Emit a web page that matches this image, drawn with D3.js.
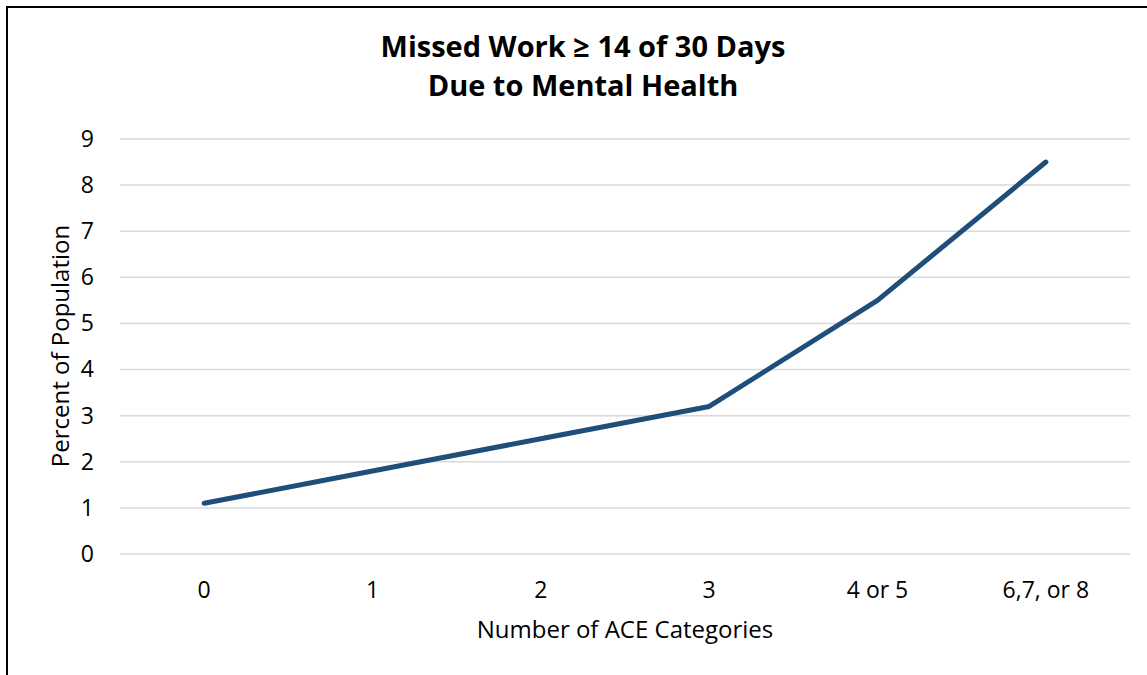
<html>
<head>
<script src="https://d3js.org/d3.v7.min.js"></script>
<style>
    body { margin: 0; background: #fff; }
    text { font-family: 'Open Sans', sans-serif; fill: #000; }
</style>
</head>
<body>
<div id="chart"></div>
<script>
    // chart data
    var categories = ["0", "1", "2", "3", "4 or 5", "6,7, or 8"];
    var values = [1.1, 1.8, 2.5, 3.2, 5.5, 8.5];
    var yTicks = [0, 1, 2, 3, 4, 5, 6, 7, 8, 9];
    var titleLines = ["Missed Work \u2265 14 of 30 Days", "Due to Mental Health"];

    var width = 1147, height = 675;
    var margin = {left: 120, right: 17, top: 139, bottom: 121};

    var svg = d3.select("#chart").append("svg")
        .attr("width", width)
        .attr("height", height);

    // frame (runs off the right and bottom)
    svg.append("rect")
        .attr("x", 7).attr("y", 7)
        .attr("width", width + 20).attr("height", height + 20)
        .attr("fill", "none")
        .attr("stroke", "#000")
        .attr("stroke-width", 2);

    var x = d3.scaleBand().domain(categories).range([margin.left, width - margin.right]).padding(0);
    var y = d3.scaleLinear().domain([0, 9]).range([height - margin.bottom, margin.top]);

    // gridlines
    svg.append("g").selectAll("line")
        .data(yTicks)
        .enter().append("line")
        .attr("x1", margin.left)
        .attr("x2", width - margin.right)
        .attr("y1", function(d){ return y(d); })
        .attr("y2", function(d){ return y(d); })
        .attr("stroke", "#d9d9d9")
        .attr("stroke-width", 1.5);

    // y axis labels
    var yAxis = svg.append("g")
        .attr("transform", "translate(" + margin.left + ",0)")
        .call(d3.axisLeft(y).tickValues(yTicks).tickSize(0).tickPadding(26));
    yAxis.select(".domain").remove();
    yAxis.selectAll("text").style("font-size", "23px").attr("fill", "#000");

    // x axis labels
    var xAxis = svg.append("g")
        .attr("transform", "translate(0," + (height - margin.bottom) + ")")
        .call(d3.axisBottom(x).tickSize(0).tickPadding(28));
    xAxis.select(".domain").remove();
    xAxis.selectAll("text").style("font-size", "23px").attr("fill", "#000");

    // the line
    var line = d3.line()
        .x(function(d, i){ return x(categories[i]) + x.bandwidth() / 2; })
        .y(function(d){ return y(d); });

    svg.append("path")
        .datum(values)
        .attr("d", line)
        .attr("fill", "none")
        .attr("stroke", "#1f4e79")
        .attr("stroke-width", 5)
        .attr("stroke-linecap", "round")
        .attr("stroke-linejoin", "round");

    // title
    svg.append("g").selectAll("text")
        .data(titleLines)
        .enter().append("text")
        .attr("x", 583)
        .attr("y", function(d, i){ return 57 + i * 39; })
        .attr("text-anchor", "middle")
        .style("font-size", "29px")
        .style("font-weight", "bold")
        .text(function(d){ return d; });

    // axis titles
    svg.append("text")
        .attr("x", 625)
        .attr("y", 638)
        .attr("text-anchor", "middle")
        .style("font-size", "24px")
        .text("Number of ACE Categories");

    svg.append("text")
        .attr("transform", "translate(69,346) rotate(-90)")
        .attr("text-anchor", "middle")
        .style("font-size", "24px")
        .text("Percent of Population");
</script>
</body>
</html>
